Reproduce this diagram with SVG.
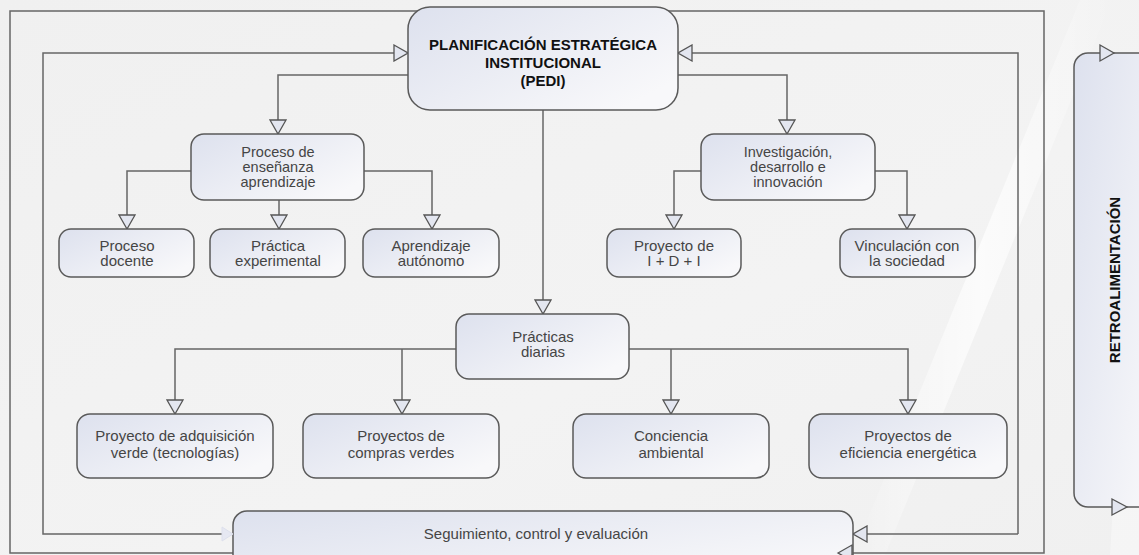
<svg xmlns="http://www.w3.org/2000/svg" width="1139" height="555" viewBox="0 0 1139 555">
<defs>
<linearGradient id="bg" x1="0" y1="0" x2="1" y2="1">
<stop offset="0" stop-color="#f0f0f0"/>
<stop offset="0.6" stop-color="#f3f3f3"/>
<stop offset="1" stop-color="#f0f0f0"/>
</linearGradient>
<linearGradient id="nodeFill" x1="0" y1="0" x2="1" y2="0.7">
<stop offset="0" stop-color="#dde1ee"/>
<stop offset="1" stop-color="#f8f8fa"/>
</linearGradient>
<linearGradient id="streak" x1="0" y1="0" x2="1" y2="0">
<stop offset="0" stop-color="#ffffff" stop-opacity="0"/>
<stop offset="0.5" stop-color="#ffffff" stop-opacity="0.9"/>
<stop offset="1" stop-color="#ffffff" stop-opacity="0"/>
</linearGradient>
<marker id="arr" viewBox="0 0 16 18" refX="15" refY="9" markerWidth="16" markerHeight="18" markerUnits="userSpaceOnUse" orient="auto">
<path d="M1,1 L15,9 L1,17 Z" fill="#e3e6f0" stroke="#555" stroke-width="1.3"/>
</marker>
</defs>
<style>
.node rect{fill:url(#nodeFill);stroke:#5a5a5a;stroke-width:1.5}
.node text{font-family:"Liberation Sans",Arial,sans-serif;font-size:15px;fill:#454545;text-anchor:middle}
.node text.tight{font-size:14.5px}
.title text{font-weight:bold;fill:#111;font-size:15px}
.conn path{fill:none;stroke:#666;stroke-width:1.5}
.arrowed{marker-end:url(#arr)}
.tri{fill:#e3e6f0;stroke:#555;stroke-width:1.3}
</style>
<rect x="0" y="0" width="1139" height="555" fill="url(#bg)"/>
<polygon points="1080,0 1112,0 885,555 853,555" fill="url(#streak)" opacity="0.8"/>
<polygon points="1125,300 1139,300 1139,555 1110,555" fill="#ffffff" opacity="0.35"/>

<g id="connectors" class="conn">
<path d="M10,11 H1044 V553 H10 Z"/>
<path class="arrowed" d="M222,534 H43 V53 H408"/>
<path class="arrowed" d="M1018,534 V53 H678"/>
<path class="arrowed" d="M1018,534 H853"/>
<path class="arrowed" d="M408,75 H278 V134"/>
<path class="arrowed" d="M678,75 H787 V134"/>
<path class="arrowed" d="M543,110 V314"/>
<path class="arrowed" d="M191,171 H127 V229"/>
<path class="arrowed" d="M279,200 V229"/>
<path class="arrowed" d="M364,171 H432 V229"/>
<path class="arrowed" d="M701,171 H674 V229"/>
<path class="arrowed" d="M875,171 H907 V229"/>
<path class="arrowed" d="M456,349 H175 V414"/>
<path class="arrowed" d="M402,349 V414"/>
<path class="arrowed" d="M629,349 H908 V414"/>
<path class="arrowed" d="M671,349 V414"/>
</g>

<g id="pedi" class="node title">
<rect x="408" y="7" width="270" height="103" rx="22"/>
<text x="543" y="50">PLANIFICACIÓN ESTRATÉGICA</text>
<text x="543" y="68">INSTITUCIONAL</text>
<text x="543" y="86">(PEDI)</text>
</g>

<g id="ensenanza" class="node">
<rect x="191" y="134" width="173" height="66" rx="13"/>
<text class="tight" x="278" y="156.5">Proceso de</text>
<text class="tight" x="278" y="171.5">enseñanza</text>
<text class="tight" x="278" y="186.5">aprendizaje</text>
</g>

<g id="investigacion" class="node">
<rect x="701" y="134" width="174" height="66" rx="13"/>
<text class="tight" x="788" y="156.5">Investigación,</text>
<text class="tight" x="788" y="171.5">desarrollo e</text>
<text class="tight" x="788" y="186.5">innovación</text>
</g>

<g id="docente" class="node">
<rect x="59" y="229" width="135" height="48" rx="12"/>
<text x="127" y="251">Proceso</text>
<text x="127" y="266">docente</text>
</g>

<g id="experimental" class="node">
<rect x="210" y="229" width="135" height="48" rx="12"/>
<text x="278" y="251">Práctica</text>
<text x="278" y="266">experimental</text>
</g>

<g id="autonomo" class="node">
<rect x="363" y="229" width="136" height="48" rx="12"/>
<text x="431" y="251">Aprendizaje</text>
<text x="431" y="266">autónomo</text>
</g>

<g id="idi" class="node">
<rect x="607" y="229" width="134" height="48" rx="12"/>
<text x="674" y="251">Proyecto de</text>
<text x="674" y="266">I + D + I</text>
</g>

<g id="vinculacion" class="node">
<rect x="840" y="229" width="135" height="48" rx="12"/>
<text x="907" y="251">Vinculación con</text>
<text x="907" y="266">la sociedad</text>
</g>

<g id="practicas" class="node">
<rect x="456" y="314" width="173" height="65" rx="13"/>
<text x="543" y="342">Prácticas</text>
<text x="543" y="357">diarias</text>
</g>

<g id="adquisicion" class="node">
<rect x="77" y="414" width="196" height="64" rx="13"/>
<text x="175" y="441">Proyecto de adquisición</text>
<text x="175" y="458">verde (tecnologías)</text>
</g>

<g id="compras" class="node">
<rect x="303" y="414" width="196" height="64" rx="13"/>
<text x="401" y="441">Proyectos de</text>
<text x="401" y="458">compras verdes</text>
</g>

<g id="conciencia" class="node">
<rect x="573" y="414" width="196" height="64" rx="13"/>
<text x="671" y="441">Conciencia</text>
<text x="671" y="458">ambiental</text>
</g>

<g id="eficiencia" class="node">
<rect x="809" y="414" width="198" height="64" rx="13"/>
<text x="908" y="441">Proyectos de</text>
<text x="908" y="458">eficiencia energética</text>
</g>

<g id="seguimiento" class="node">
<rect x="233" y="511" width="620" height="70" rx="14"/>
<text x="536" y="539">Seguimiento, control y evaluación</text>
<polygon points="222,527 233,534 222,541" fill="#e6e8f2" stroke="#dde0ec" stroke-width="1"/>
<polygon class="tri" points="838,553 852,545 852,561"/>
</g>

<g id="retroalimentacion" class="node title">
<rect x="1074" y="53" width="100" height="454" rx="14"/>
<polygon class="tri" points="1100,45 1114,53 1100,61"/>
<polygon class="tri" points="1112,499 1127,507 1112,515"/>
<text x="1120" y="280" transform="rotate(-90 1120 280)">RETROALIMENTACIÓN</text>
</g>
</svg>
